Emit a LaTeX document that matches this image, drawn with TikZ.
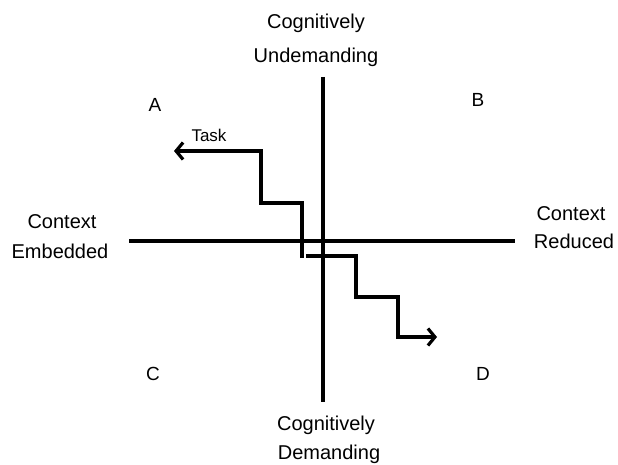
\documentclass[tikz,border=0pt]{standalone}
\usepackage{fontspec}
\setmainfont{Liberation Sans}
\usetikzlibrary{arrows.meta}
\begin{document}
\begin{tikzpicture}[x=1pt,y=-1pt,
  lbl/.style={font=\fontsize{20}{24}\selectfont, anchor=base, inner sep=0pt},
  letter/.style={font=\fontsize{19}{23}\selectfont, anchor=base, inner sep=0pt},
  axis/.style={line width=3.2pt},
  taskline/.style={line width=3.2pt},
  tip/.style={-{Straight Barb[length=7pt,width=17pt,line width=3.2pt]}}]
\useasboundingbox (0,0) rectangle (618,465);
% axes
\coordinate (vt) at (323,77);
\coordinate (vb) at (323,402);
\coordinate (hl) at (129,241);
\coordinate (hr) at (515,241);
\draw[axis] (vt) -- (vb);
\draw[axis] (hl) -- (hr);
% labels
\node[lbl] (top1) at (316,29) {Cognitively};
\node[lbl] (top2) at (316,63) {Undemanding};
\node[lbl] (bot1) at (326,430) {Cognitively};
\node[lbl] (bot2) at (329,459) {Demanding};
\node[lbl] (left1) at (62,229) {Context};
\node[lbl] (left2) at (60,258) {Embedded};
\node[lbl] (right1) at (571,220) {Context};
\node[lbl] (right2) at (574,248) {Reduced};
\node[letter] (A) at (155,112) {A};
\node[letter] (B) at (478,107) {B};
\node[letter] (C) at (153,380) {C};
\node[letter] (D) at (483,380) {D};
\node[letter, font=\fontsize{17}{20}\selectfont] (task) at (209,142) {Task};
% task steps
\coordinate (p1) at (302,258);
\coordinate (p2) at (302,203);
\coordinate (p3) at (261,203);
\coordinate (p4) at (261,151);
\coordinate (p5) at (174,151);
\draw[taskline, tip] (p1) -- (p2) -- (p3) -- (p4) -- (p5);
\coordinate (q1) at (306,256);
\coordinate (q2) at (356,256);
\coordinate (q3) at (356,297);
\coordinate (q4) at (398,297);
\coordinate (q5) at (398,337);
\coordinate (q6) at (437,337);
\draw[taskline, tip] (q1) -- (q2) -- (q3) -- (q4) -- (q5) -- (q6);
\end{tikzpicture}
\end{document}
